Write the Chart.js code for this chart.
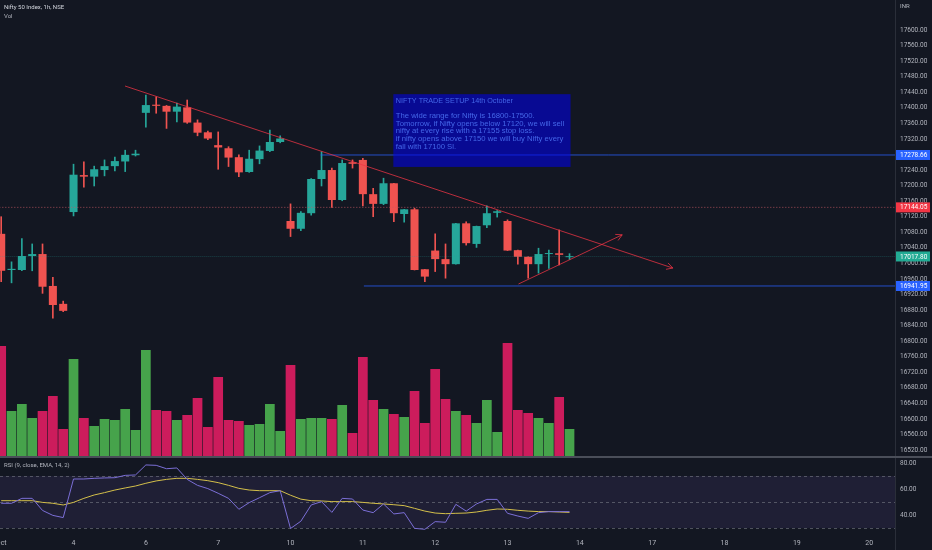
<!DOCTYPE html>
<html>
<head>
<meta charset="utf-8">
<script src="https://cdn.jsdelivr.net/npm/chart.js@4.4.0/dist/chart.umd.min.js"></script>
<style>
    html, body { margin: 0; padding: 0; background: #131722; }
    #wrap { position: relative; width: 932px; height: 550px; overflow: hidden; background: #131722; font-family: Roboto, "Liberation Sans", sans-serif; }
    canvas { position: absolute; left: 0; }
    #main { top: 0; }
    #rsi { top: 457px; }
    .line { position: absolute; }
    .txt { position: absolute; white-space: nowrap; font-size: 6px; line-height: 8px; }
</style>
</head>
<body>
<div id="wrap">
    <canvas id="main" width="932" height="457"></canvas>
    <canvas id="rsi" width="932" height="93"></canvas>
    <div class="line" style="left:895px;top:0;width:1px;height:550px;background:#2a2e39"></div>
    <div class="line" style="left:0;top:456px;width:932px;height:2px;background:#4a4e59"></div>
    <div class="txt" style="left:4px;top:3px;color:#d1d4dc">Nifty 50 Index, 1h, NSE</div>
    <div class="txt" style="left:4px;top:12px;color:#b2b5be">Vol</div>
    <div class="txt" style="left:4px;top:461px;color:#b2b5be">RSI (9, close, EMA, 14, 2)</div>
    <div class="txt" style="left:900px;top:2px;color:#b2b5be">INR</div>
</div>
<script>
// hourly candles, Nifty 50
const opens  = [17076, 16983, 16983, 17019, 17024, 16942, 16896, 17132, 17227, 17223, 17240, 17250, 17262, 17278,
                17387, 17408, 17405, 17390, 17401, 17362, 17337, 17304, 17296, 17273, 17235, 17268, 17289, 17312,
                17109, 17089, 17129, 17217, 17240, 17163, 17260, 17266, 17178, 17153, 17206, 17127, 17139, 16985,
                17033, 17011, 16998, 17103, 17050, 17098, 17130, 17109, 17034, 17017, 16998, 17024, 17026, 17016];
const highs  = [17120, 17004, 17064, 17050, 17050, 16964, 16903, 17255, 17261, 17250, 17266, 17273, 17291, 17291,
                17433, 17428, 17406, 17412, 17420, 17369, 17340, 17338, 17300, 17279, 17291, 17302, 17343, 17328,
                17153, 17133, 17218, 17287, 17245, 17266, 17266, 17270, 17193, 17219, 17206, 17139, 17142, 16985,
                17076, 17050, 17103, 17107, 17096, 17148, 17136, 17112, 17034, 17017, 17039, 17034, 17086, 17025];
const lows   = [16953, 16950, 16981, 16981, 16923, 16859, 16876, 17122, 17196, 17199, 17225, 17238, 17236, 17276,
                17350, 17386, 17347, 17364, 17360, 17328, 17318, 17242, 17249, 17223, 17234, 17256, 17287, 17310,
                17069, 17084, 17124, 17199, 17144, 17161, 17245, 17148, 17120, 17151, 17107, 17106, 16983, 16953,
                16979, 16962, 16998, 17047, 17041, 17092, 17119, 17033, 16998, 16962, 16975, 16987, 16996, 17010];
const closes = [16981, 16986, 17019, 17024, 16940, 16893, 16878, 17228, 17223, 17242, 17250, 17263, 17279, 17282,
                17407, 17405, 17390, 17403, 17362, 17336, 17321, 17298, 17272, 17234, 17269, 17290, 17312, 17321,
                17089, 17130, 17217, 17240, 17163, 17258, 17256, 17178, 17153, 17206, 17129, 17139, 16983, 16966,
                17011, 16998, 17103, 17052, 17096, 17129, 17134, 17033, 17017, 16998, 17024, 17026, 17022, 17018];
const volumes = [111, 46, 53, 39, 46, 61, 28, 98, 39, 31, 38, 37, 48, 27,
                 107, 47, 46, 37, 42, 59, 30, 80, 37, 36, 32, 33, 53, 26,
                 92, 38, 39, 39, 38, 52, 24, 100, 57, 48, 43, 40, 66, 34,
                 88, 58, 46, 42, 34, 57, 25, 114, 47, 44, 39, 34, 60, 28];
const rsiValues = [49, 49, 52.8, 52.8, 43.5, 39.7, 38, 67.7, 67.7, 68.2, 68.5, 68.7, 70.5, 70.8,
                   78.5, 78.2, 75.6, 76.2, 67.4, 62.8, 60.3, 56.7, 52.8, 44.4, 49.5, 53.3, 57.2, 58.7,
                   29.6, 35.2, 47.7, 50.3, 42, 52.8, 52.3, 43.8, 41.8, 48.5, 40.8, 41.8, 29.7, 29,
                   34.9, 34.4, 48.2, 43, 48.5, 52, 52, 41.3, 39.2, 37.4, 41.8, 42.6, 42.6, 42.6];
const rsiEma = [51, 51, 51, 51, 49.7, 49, 47.7, 49.7, 52.8, 55.4, 57.2, 59.2, 60.8, 62.3,
                64.4, 66.2, 67.4, 68.2, 68.2, 67.4, 66.4, 64.9, 62.8, 60.5, 59.2, 58.7, 58.7, 58.7,
                55.2, 52.2, 51, 50.8, 50.3, 50.3, 50.3, 49.7, 49, 48.5, 47.9, 47.2, 45.1, 43,
                41.5, 41, 41.3, 41.5, 42.3, 43.6, 44.6, 44.4, 43.6, 43, 42.6, 42.6, 42.3, 42];

// x axis day labels (bar index where each session starts)
const dayIdx = [0, 7, 14, 21, 28, 35, 42, 49, 56, 63, 70, 77, 84];
const dayLabels = ['Oct', '4', '6', '7', '10', '11', '12', '13', '14', '17', '18', '19', '20'];
const priceTicks = [17600, 17560, 17520, 17480, 17440, 17400, 17360, 17320, 17280, 17240, 17200, 17160, 17120, 17080,
                    17040, 17000, 16960, 16920, 16880, 16840, 16800, 16760, 16720, 16680, 16640, 16600, 16560, 16520];
const rsiTicks = [80, 60, 40];
const rsiBands = [70, 50, 30];

// drawings
const lastPrice = 17017.80;
const markedLevel = 17144.05;
const resistance = { from: 30.9, price: 17278.66 };
const support = { from: 35.1, price: 16941.95 };
const downTrend = [{ x: 11.98, y: 17456 }, { x: 65.0, y: 16988 }];
const upTrend = [{ x: 50.06, y: 16947 }, { x: 60.1, y: 17073.5 }];
const noteBox = { x0: 37.95, x1: 55.1, top: 17435, bottom: 17248 };
const noteTitle = 'NIFTY TRADE SETUP 14th October';
const noteLines = [
    'The wide range for Nifty is 16800-17500.',
    'Tomorrow, if Nifty opens below 17120, we will sell',
    'nifty at every rise with a 17155 stop loss.',
    'if nifty opens above 17150 we will buy Nifty every',
    'fall with 17100 Sl.'
];

const X_MIN = -0.116, X_MAX = 86.5;
const P_MIN = 16502.3, P_MAX = 17677.1;
const R_MIN = 24.6, R_MAX = 83.85;

const UP = '#26a69a', DOWN = '#ef5350';
const VOL_UP = '#46a34b', VOL_DOWN = '#cc1c5c';
const FONT = 'Roboto, "Liberation Sans", sans-serif';
const NOTE_FONT = '"Liberation Sans", Arial, sans-serif';
const AXIS_TEXT = '#b2b5be';

const isUp = i => closes[i] >= opens[i];
const candleColors = opens.map((o, i) => isUp(i) ? UP : DOWN);
const volColors = opens.map((o, i) => isUp(i) ? VOL_UP : VOL_DOWN);

function flatLine(from, price, color, dash) {
    return {
        type: 'line',
        data: [{ x: from, y: price }, { x: X_MAX + 5, y: price }],
        borderColor: color,
        borderWidth: 1,
        borderDash: dash || [],
        pointRadius: 0,
        yAxisID: 'y',
        order: 2
    };
}

function trendLine(points) {
    return {
        type: 'line',
        data: points,
        borderColor: 'rgba(242, 54, 69, 0.75)',
        borderWidth: 1,
        pointRadius: 0,
        arrowHead: true,
        yAxisID: 'y',
        order: 1
    };
}

const chartDecor = {
    id: 'chartDecor',
    afterDatasetsDraw(chart) {
        const ctx = chart.ctx;
        const x = chart.scales.x, y = chart.scales.y;

        // arrow heads on trend lines
        chart.data.datasets.forEach((ds, di) => {
            if (!ds.arrowHead) return;
            const pts = chart.getDatasetMeta(di).data;
            const a = pts[pts.length - 2], b = pts[pts.length - 1];
            const ang = Math.atan2(b.y - a.y, b.x - a.x);
            ctx.save();
            ctx.strokeStyle = ds.borderColor;
            ctx.lineWidth = 1;
            ctx.beginPath();
            [-0.5, 0.5].forEach(off => {
                ctx.moveTo(b.x, b.y);
                ctx.lineTo(b.x - 7 * Math.cos(ang + off), b.y - 7 * Math.sin(ang + off));
            });
            ctx.stroke();
            ctx.restore();
        });

        // trade setup note
        const bx0 = x.getPixelForValue(noteBox.x0), bx1 = x.getPixelForValue(noteBox.x1);
        const by0 = y.getPixelForValue(noteBox.top), by1 = y.getPixelForValue(noteBox.bottom);
        ctx.save();
        ctx.fillStyle = 'rgba(0, 0, 235, 0.56)';
        ctx.fillRect(bx0, by0, bx1 - bx0, by1 - by0);
        ctx.fillStyle = '#4467ea';
        ctx.font = '7.7px ' + NOTE_FONT;
        ctx.textBaseline = 'middle';
        ctx.fillText(noteTitle, bx0 + 2.5, by0 + 6.7, 117);
        noteLines.forEach((t, k) => ctx.fillText(t, bx0 + 2.5, by0 + 21.6 + k * 7.7));
        ctx.restore();
    },
    afterDraw(chart) {
        // price tags on the right axis
        const ctx = chart.ctx;
        const y = chart.scales.y;
        const left = chart.chartArea.right;
        const tags = [
            [resistance.price, '#2962ff'],
            [markedLevel, '#f23645'],
            [lastPrice, '#22ab94'],
            [support.price, '#2962ff']
        ];
        ctx.save();
        ctx.font = '6.5px ' + FONT;
        ctx.textBaseline = 'middle';
        tags.forEach(([p, c]) => {
            const py = y.getPixelForValue(p);
            ctx.fillStyle = c;
            ctx.fillRect(left + 1, py - 5, 34, 10);
            ctx.fillStyle = '#ffffff';
            ctx.fillText(p.toFixed(2), left + 5, py + 0.5);
        });
        ctx.restore();
    }
};

new Chart(document.getElementById('main'), {
    type: 'bar',
    data: {
        datasets: [
            trendLine(downTrend),
            trendLine(upTrend),
            flatLine(resistance.from, resistance.price, 'rgba(41, 98, 255, 0.75)'),
            flatLine(support.from, support.price, 'rgba(41, 98, 255, 0.75)'),
            flatLine(X_MIN - 5, markedLevel, 'rgba(200, 90, 100, 0.8)', [1, 2]),
            flatLine(X_MIN - 5, lastPrice, 'rgba(38, 166, 154, 0.3)', [1, 1]),
            {
                // candle bodies
                data: opens.map((o, i) => ({ x: i, y: [o, closes[i]] })),
                backgroundColor: candleColors,
                barPercentage: 0.78,
                categoryPercentage: 1,
                minBarLength: 1,
                grouped: false,
                yAxisID: 'y',
                order: 4
            },
            {
                // wicks
                data: lows.map((l, i) => ({ x: i, y: [l, highs[i]] })),
                backgroundColor: candleColors,
                barThickness: 1,
                grouped: false,
                yAxisID: 'y',
                order: 5
            },
            {
                data: volumes.map((v, i) => ({ x: i, y: v })),
                backgroundColor: volColors,
                barPercentage: 0.94,
                categoryPercentage: 1,
                grouped: false,
                yAxisID: 'vol',
                order: 10
            }
        ]
    },
    options: {
        responsive: false,
        animation: false,
        layout: { padding: 0 },
        plugins: { legend: { display: false }, tooltip: { enabled: false } },
        scales: {
            x: { type: 'linear', min: X_MIN, max: X_MAX, offset: false, display: false },
            y: {
                type: 'linear',
                position: 'right',
                min: P_MIN,
                max: P_MAX,
                grid: { display: false, drawTicks: false },
                border: { display: false },
                afterBuildTicks: s => { s.ticks = priceTicks.map(v => ({ value: v })); },
                ticks: {
                    autoSkip: false,
                    padding: 5,
                    color: AXIS_TEXT,
                    font: { size: 6.5, family: FONT },
                    callback: v => Number(v).toFixed(2)
                },
                afterFit: s => { s.width = 37; s.paddingTop = 0; s.paddingBottom = 0; }
            },
            vol: { type: 'linear', position: 'left', min: 0, max: 457, display: false }
        }
    },
    plugins: [chartDecor]
});

const rsiDecor = {
    id: 'rsiDecor',
    beforeDatasetsDraw(chart) {
        const ctx = chart.ctx;
        const { left, right } = chart.chartArea;
        const y = chart.scales.y;
        const yTop = y.getPixelForValue(rsiBands[0]), yBot = y.getPixelForValue(rsiBands[2]);
        ctx.save();
        ctx.fillStyle = 'rgba(126, 87, 194, 0.12)';
        ctx.fillRect(left, yTop, right - left, yBot - yTop);
        ctx.strokeStyle = 'rgba(120, 123, 134, 0.6)';
        ctx.setLineDash([3, 3]);
        ctx.lineWidth = 1;
        rsiBands.forEach(b => {
            const py = Math.round(y.getPixelForValue(b)) + 0.5;
            ctx.beginPath();
            ctx.moveTo(left, py);
            ctx.lineTo(right, py);
            ctx.stroke();
        });
        ctx.restore();
    }
};

new Chart(document.getElementById('rsi'), {
    type: 'line',
    data: {
        datasets: [
            {
                data: rsiValues.map((v, i) => ({ x: i, y: v })),
                borderColor: '#7b6fd6',
                borderWidth: 1,
                pointRadius: 0
            },
            {
                data: rsiEma.map((v, i) => ({ x: i, y: v })),
                borderColor: '#d4c04a',
                borderWidth: 1,
                pointRadius: 0
            }
        ]
    },
    options: {
        responsive: false,
        animation: false,
        layout: { padding: { top: 1 } },
        plugins: { legend: { display: false }, tooltip: { enabled: false } },
        scales: {
            x: {
                type: 'linear',
                min: X_MIN,
                max: X_MAX,
                offset: false,
                grid: { display: false, drawTicks: false },
                border: { display: false },
                afterBuildTicks: s => { s.ticks = dayIdx.map(v => ({ value: v })); },
                ticks: {
                    autoSkip: false,
                    maxRotation: 0,
                    padding: 4,
                    color: AXIS_TEXT,
                    font: { size: 7, family: FONT },
                    callback: (v, i) => dayLabels[i]
                },
                afterFit: s => { s.height = 15; s.paddingLeft = 0; s.paddingRight = 0; }
            },
            y: {
                type: 'linear',
                position: 'right',
                min: R_MIN,
                max: R_MAX,
                grid: { display: false, drawTicks: false },
                border: { display: false },
                afterBuildTicks: s => { s.ticks = rsiTicks.map(v => ({ value: v })); },
                ticks: {
                    autoSkip: false,
                    padding: 5,
                    color: AXIS_TEXT,
                    font: { size: 6.5, family: FONT },
                    callback: v => Number(v).toFixed(2)
                },
                afterFit: s => { s.width = 37; s.paddingTop = 0; s.paddingBottom = 0; }
            }
        }
    },
    plugins: [rsiDecor]
});
</script>
</body>
</html>
